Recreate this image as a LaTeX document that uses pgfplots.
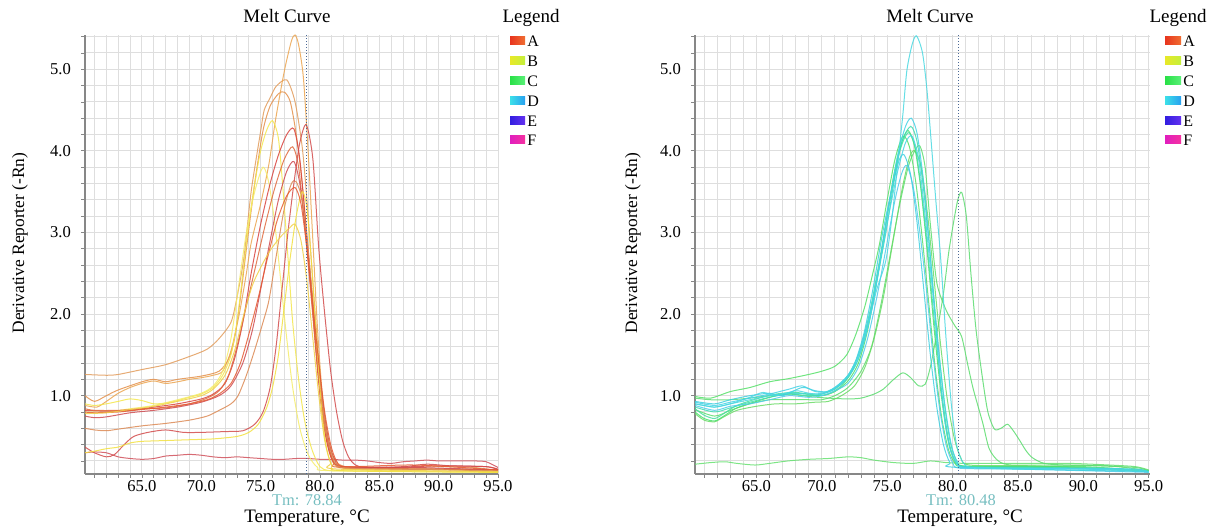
\documentclass[border=0pt]{standalone}
\usepackage{fontspec}
\setmainfont{Liberation Serif}
\usepackage{pgfplots}
\pgfplotsset{compat=1.18}
\definecolor{gridc}{RGB}{222,222,222}
\definecolor{axc}{RGB}{135,135,135}
\definecolor{tmc}{RGB}{118,190,192}
\definecolor{tmline}{RGB}{75,105,150}
% left panel colours
\definecolor{la}{RGB}{226,156,92}
\definecolor{lb}{RGB}{228,144,74}
\definecolor{lc}{RGB}{235,165,80}
\definecolor{ld}{RGB}{243,230,76}
\definecolor{le}{RGB}{245,236,106}
\definecolor{lf}{RGB}{216,67,63}
\definecolor{lg}{RGB}{224,106,62}
\definecolor{lh}{RGB}{207,75,80}
\definecolor{li}{RGB}{220,138,85}
\definecolor{lj}{RGB}{210,75,75}
\definecolor{lk}{RGB}{242,224,64}
\definecolor{ll}{RGB}{208,80,90}
\definecolor{lm}{RGB}{230,90,50}
\definecolor{ln}{RGB}{240,208,72}
% right panel colours
\definecolor{ra}{RGB}{74,216,224}
\definecolor{rb}{RGB}{69,211,230}
\definecolor{rc}{RGB}{62,221,176}
\definecolor{rd}{RGB}{75,224,110}
\definecolor{re}{RGB}{80,204,234}
\definecolor{rf}{RGB}{93,221,110}
\definecolor{rg}{RGB}{85,224,104}
\definecolor{rh}{RGB}{72,214,228}
\definecolor{ri}{RGB}{69,224,160}
\definecolor{rj}{RGB}{92,220,112}
\definecolor{rk}{RGB}{102,224,112}
\definecolor{rl}{RGB}{63,208,224}
\definecolor{rm}{RGB}{106,219,102}
% legend swatches
\definecolor{sAl}{RGB}{232,52,30}\definecolor{sAr}{RGB}{240,110,50}
\definecolor{sBl}{RGB}{232,232,40}\definecolor{sBr}{RGB}{196,240,60}
\definecolor{sCl}{RGB}{40,224,70}\definecolor{sCr}{RGB}{90,240,120}
\definecolor{sDl}{RGB}{60,224,232}\definecolor{sDr}{RGB}{40,160,240}
\definecolor{sEl}{RGB}{50,30,224}\definecolor{sEr}{RGB}{100,50,240}
\definecolor{sFl}{RGB}{224,30,190}\definecolor{sFr}{RGB}{245,50,160}

\pgfplotsset{
  meltaxis/.style={
    scale only axis, anchor=south west,
    height=219.5pt,
    ymin=0.04, ymax=5.42,
    ytick={1,2,3,4,5},
    minor ytick={0.2,0.4,0.6,0.8,1.2,1.4,1.6,1.8,2.2,2.4,2.6,2.8,3.2,3.4,3.6,3.8,4.2,4.4,4.6,4.8,5.2,5.4},
    xtick={65,70,75,80,85,90,95},
    minor xtick={61,62,63,64,66,67,68,69,71,72,73,74,76,77,78,79,81,82,83,84,86,87,88,89,91,92,93,94},
    grid=both,
    major grid style={gridc, line width=0.5pt},
    minor grid style={gridc, line width=0.5pt},
    axis x line*=bottom, axis y line*=left,
    axis line style={axc, line width=1pt, -},
    tick align=outside,
    major tick length=2pt, minor tick length=2pt,
    tick style={axc, line width=0.4pt},
    xticklabel style={font=\fontsize{8.3}{10}\selectfont, inner sep=0pt, yshift=-1.2pt},
    yticklabel style={font=\fontsize{8.3}{10}\selectfont, xshift=-1.5pt},
    /pgf/number format/.cd, fixed, fixed zerofill, precision=1, assume math mode=true,
    /pgfplots/.cd,
    every axis plot/.append style={line width=0.5pt, smooth, tension=0.45, no markers, opacity=0.85},
    clip=true,
  }
}

\begin{document}
\begin{tikzpicture}
\path[use as bounding box] (0,0) rectangle (605pt,265pt);

% ---------------- LEFT PANEL ----------------
\begin{axis}[meltaxis, at={(42.5pt,28pt)}, width=206.5pt, xmin=60.2, xmax=95.0]
\addplot[ll] coordinates {(60.2,0.3)(61,0.31)(62,0.3)(63,0.25)(64,0.23)(65,0.22)(66,0.23)(67,0.26)(68,0.27)(69,0.28)(70,0.27)(71,0.25)(72,0.24)(73,0.25)(74,0.24)(75,0.23)(76,0.22)(77,0.22)(78,0.23)(79,0.23)(80,0.22)(81,0.22)(82,0.21)(83,0.21)(84,0.2)(85,0.18)(86,0.17)(87,0.19)(88,0.2)(89,0.21)(90,0.2)(91,0.2)(92,0.2)(93,0.2)(94,0.19)(95,0.12)};
\addplot[la] coordinates {(60.2,1.26)(62,1.25)(63,1.26)(65,1.32)(67,1.38)(69,1.48)(70.5,1.57)(71.5,1.7)(72.5,1.9)(73,2.2)(73.6,2.7)(74.2,3.5)(75,4.24)(75.3,4.5)(75.8,4.65)(76.3,4.79)(77.2,4.87)(77.9,4.6)(78.5,4.05)(78.9,3.4)(79.3,2.6)(79.7,1.8)(80.1,1.1)(80.5,0.6)(81,0.3)(81.5,0.17)(82.5,0.12)(85,0.11)(88,0.12)(90,0.13)(93,0.12)(95,0.08)};
\addplot[lb] coordinates {(60.2,1.0)(61,0.93)(62,1.0)(63,1.07)(65,1.17)(66,1.2)(67,1.17)(68,1.2)(70,1.24)(71.5,1.3)(72.3,1.45)(72.8,1.7)(73.3,2.2)(73.8,2.8)(74.5,3.6)(75.2,4.25)(75.8,4.55)(76.5,4.7)(77,4.72)(77.5,4.6)(78,4.2)(78.5,3.6)(79,2.8)(79.5,1.9)(80,1.05)(80.5,0.5)(81,0.22)(81.5,0.13)(83,0.1)(87,0.1)(92,0.1)(95,0.07)};
\addplot[lc] coordinates {(60.2,0.88)(61.2,0.86)(62,0.93)(63,1.03)(64,1.1)(65,1.15)(66,1.18)(67,1.15)(68,1.17)(69,1.2)(70,1.22)(71,1.25)(71.8,1.3)(72.5,1.55)(73.2,2.0)(73.8,2.5)(74.2,2.87)(75,3.35)(75.7,3.84)(76.2,4.33)(76.7,4.75)(77.1,5.05)(77.6,5.35)(77.9,5.42)(78.2,5.3)(78.6,4.9)(79,4.0)(79.4,2.9)(79.8,1.8)(80.2,1.0)(80.6,0.5)(81,0.22)(81.6,0.12)(84,0.1)(90,0.1)(95,0.06)};
\addplot[ld] coordinates {(60.2,0.9)(61,0.88)(62,0.9)(63,0.93)(64,0.96)(65,0.94)(66,0.9)(67,0.91)(68,0.94)(69,0.98)(70,1.02)(71,1.1)(71.8,1.25)(72.5,1.5)(73,1.9)(73.5,2.5)(74,3.1)(74.5,3.6)(75,4.0)(75.5,4.25)(76,4.37)(76.5,4.15)(76.9,3.5)(77.3,2.7)(77.7,1.9)(78.2,1.2)(78.7,0.7)(79.3,0.35)(80,0.13)(81,0.08)(85,0.08)(95,0.07)};
\addplot[le] coordinates {(60.2,0.8)(62,0.8)(64,0.84)(66,0.88)(68,0.95)(70,1.03)(71,1.12)(71.8,1.3)(72.5,1.7)(73.2,2.4)(73.8,3.0)(74.5,3.5)(75.2,3.8)(75.7,3.6)(76.2,3.1)(76.7,2.4)(77.2,1.7)(77.7,1.1)(78.3,0.6)(79,0.28)(79.8,0.12)(81,0.08)(95,0.06)};
\addplot[lf] coordinates {(60.2,0.82)(62,0.81)(64,0.82)(66,0.86)(68,0.9)(70,0.96)(71,1.02)(72,1.15)(72.8,1.45)(73.5,1.9)(74.2,2.5)(75,3.1)(75.8,3.6)(76.5,3.95)(77.2,4.2)(77.8,4.27)(78.3,3.9)(78.8,3.1)(79.3,2.2)(79.8,1.3)(80.3,0.65)(80.8,0.3)(81.3,0.16)(82.5,0.12)(86,0.12)(90,0.14)(94,0.13)(95,0.09)};
\addplot[lg] coordinates {(60.2,0.84)(61,0.82)(63,0.82)(65,0.84)(67,0.85)(69,0.9)(70.5,0.97)(71.5,1.06)(72.3,1.25)(73,1.6)(73.8,2.1)(74.6,2.6)(75.4,3.1)(76.2,3.55)(77,3.9)(77.7,4.05)(78.2,3.8)(78.7,3.1)(79.2,2.3)(79.7,1.5)(80.2,0.85)(80.7,0.4)(81.2,0.18)(82,0.12)(95,0.09)};
\addplot[lh] coordinates {(60.2,0.75)(61,0.73)(62,0.74)(64,0.79)(66,0.82)(68,0.86)(70,0.92)(71.5,1.0)(72.5,1.12)(73.5,1.4)(74.3,1.8)(75,2.3)(75.8,2.9)(76.5,3.4)(77.2,3.75)(77.8,3.87)(78.3,3.6)(78.8,3.0)(79.3,2.3)(79.8,1.5)(80.3,0.85)(80.8,0.4)(81.3,0.2)(82,0.13)(88,0.12)(95,0.09)};
\addplot[li] coordinates {(60.2,0.6)(61,0.58)(62,0.57)(63,0.59)(65,0.63)(67,0.66)(69,0.7)(70.5,0.75)(71.5,0.82)(72.5,0.9)(73.1,1.0)(73.8,1.25)(74.5,1.56)(75.2,1.9)(75.7,2.17)(76.3,2.7)(77,3.3)(77.6,3.6)(78,3.62)(78.5,3.4)(79,2.8)(79.5,2.0)(80,1.2)(80.5,0.6)(81,0.28)(81.5,0.15)(83,0.11)(95,0.08)};
\addplot[lj] coordinates {(60.2,0.37)(61,0.3)(62,0.25)(62.7,0.28)(63.5,0.4)(64.3,0.5)(65.5,0.55)(67,0.58)(68.5,0.55)(70,0.55)(72,0.56)(73.5,0.57)(74.5,0.65)(75.2,0.8)(75.8,1.1)(76.3,1.6)(76.8,2.3)(77.3,3.0)(77.8,3.6)(78.3,4.1)(78.84,4.32)(79.4,3.9)(79.9,2.8)(80.4,2.0)(80.9,1.3)(81.4,0.8)(81.9,0.45)(82.4,0.25)(83,0.15)(84,0.12)(87,0.13)(89,0.16)(91,0.14)(94,0.13)(95,0.1)};
\addplot[lk] coordinates {(60.2,0.3)(61,0.32)(62,0.35)(63,0.37)(64,0.42)(65,0.44)(67,0.45)(69,0.46)(71,0.47)(73,0.5)(74,0.55)(74.8,0.65)(75.5,0.85)(76,1.1)(76.5,1.5)(77,2.1)(77.5,2.7)(78,3.2)(78.5,3.5)(78.9,3.3)(79.3,2.6)(79.7,1.7)(80.1,0.9)(80.5,0.4)(81,0.15)(82,0.08)(95,0.06)};
\addplot[lm] coordinates {(60.2,0.8)(61,0.79)(63,0.8)(65,0.83)(67,0.86)(69,0.9)(70.5,0.95)(71.5,1.02)(72.5,1.15)(73.3,1.4)(74,1.75)(74.8,2.2)(75.6,2.7)(76.4,3.15)(77.2,3.45)(77.9,3.55)(78.4,3.35)(78.9,2.8)(79.4,2.1)(79.9,1.4)(80.4,0.8)(80.9,0.4)(81.4,0.2)(82.2,0.13)(88,0.15)(95,0.09)};
\addplot[ln] coordinates {(60.2,0.78)(62,0.79)(64,0.83)(66,0.87)(68,0.93)(70,1.0)(71,1.08)(72,1.25)(72.8,1.55)(73.5,1.95)(74.3,2.35)(75.1,2.6)(75.9,2.8)(76.7,2.95)(77.4,3.05)(77.9,3.1)(78.4,2.9)(78.9,2.4)(79.4,1.7)(79.9,1.0)(80.4,0.45)(80.9,0.18)(81.5,0.1)(95,0.07)};
\addplot[tmline, densely dotted, line width=0.6pt, sharp plot, opacity=1] coordinates {(78.84,0.04)(78.84,5.42)};
\end{axis}

% ---------------- RIGHT PANEL ----------------
\begin{axis}[meltaxis, at={(347.5pt,28pt)}, width=227.5pt, xmin=60.3, xmax=95.1]
\addplot[rk] coordinates {(60.3,0.16)(61.5,0.18)(62.6,0.19)(63.5,0.17)(64.9,0.15)(66,0.17)(67.4,0.2)(69,0.22)(70.5,0.23)(72,0.25)(73,0.24)(74,0.21)(75.5,0.18)(77,0.17)(78.3,0.2)(79.5,0.18)(81,0.17)(83,0.17)(86,0.17)(89,0.17)(92,0.15)(94,0.13)(95,0.09)};
\addplot[rj] coordinates {(60.3,0.97)(61.5,0.95)(63,0.95)(64.5,0.97)(66,1.0)(67.5,1.02)(69,0.99)(70.5,0.97)(72,0.96)(73,0.97)(74,1.02)(74.7,1.08)(75.5,1.2)(76.2,1.28)(76.8,1.22)(77.4,1.12)(77.9,1.14)(78.3,1.35)(78.8,1.77)(79.3,2.25)(79.7,2.75)(80.05,3.1)(80.4,3.4)(80.7,3.49)(81.05,3.2)(81.4,2.5)(81.8,1.8)(82.3,1.2)(82.7,0.8)(83.2,0.59)(83.7,0.6)(84.2,0.65)(84.6,0.58)(85.1,0.46)(85.6,0.33)(86.1,0.24)(87,0.17)(88.5,0.15)(91,0.14)(94,0.12)(95,0.08)};
\addplot[rf] coordinates {(60.3,0.83)(61.8,0.75)(63,0.82)(64.5,0.9)(66,0.95)(67.5,0.95)(69,0.95)(70,0.95)(71,1.0)(72,1.1)(73,1.3)(73.8,1.6)(74.5,2.1)(75.2,2.7)(75.9,3.3)(76.6,3.8)(77.1,4.0)(77.5,4.06)(77.9,3.8)(78.3,3.1)(78.8,2.38)(79.5,2.05)(80.2,1.85)(80.7,1.72)(81.2,1.35)(81.6,1.07)(82.3,0.67)(82.8,0.35)(83.5,0.2)(84.5,0.15)(88,0.15)(92,0.14)(95,0.08)};
\addplot[rg] coordinates {(60.3,0.99)(61.5,0.97)(63,1.05)(64.5,1.1)(66,1.17)(67.5,1.21)(69,1.26)(70,1.3)(71,1.36)(71.9,1.5)(72.6,1.75)(73.3,2.1)(73.9,2.5)(74.4,2.85)(75,3.4)(75.6,3.9)(76.2,4.18)(76.7,4.05)(77.2,3.6)(77.7,2.9)(78.2,2.1)(78.7,1.3)(79.2,0.7)(79.7,0.33)(80.2,0.17)(81,0.13)(88,0.13)(95,0.08)};
\addplot[rm] coordinates {(60.3,0.78)(61,0.7)(61.8,0.68)(62.5,0.74)(63.5,0.82)(65,0.87)(66.5,0.9)(68,0.9)(69.5,0.92)(70.5,0.93)(71.5,1.0)(72.5,1.12)(73.3,1.35)(74,1.7)(74.7,2.2)(75.4,2.85)(76.1,3.5)(76.7,3.92)(77.1,4.0)(77.6,3.8)(78.1,3.2)(78.6,2.4)(79.1,1.6)(79.6,0.95)(80.1,0.5)(80.6,0.25)(81.3,0.15)(86,0.14)(95,0.08)};
\addplot[rd] coordinates {(60.3,0.8)(61,0.72)(61.8,0.69)(62.5,0.75)(63.5,0.85)(65,0.93)(66.5,1.0)(68,1.03)(69,1.02)(70,1.0)(71,1.05)(72,1.18)(72.8,1.4)(73.5,1.8)(74.2,2.4)(74.9,3.1)(75.5,3.7)(76.1,4.1)(76.6,4.25)(77.1,4.05)(77.6,3.5)(78.1,2.7)(78.6,1.8)(79.1,1.05)(79.6,0.5)(80.1,0.22)(80.8,0.14)(85,0.13)(90,0.13)(95,0.08)};
\addplot[ri] coordinates {(60.3,0.84)(61,0.76)(61.8,0.72)(62.5,0.78)(63.5,0.88)(65,0.96)(66.5,1.02)(68,1.04)(69.5,1.0)(70.5,1.02)(71.5,1.12)(72.3,1.3)(73,1.6)(73.7,2.05)(74.4,2.65)(75.1,3.3)(75.8,3.9)(76.3,4.15)(76.7,4.22)(77.2,4.0)(77.7,3.4)(78.2,2.6)(78.7,1.75)(79.2,1.0)(79.7,0.45)(80.2,0.2)(81,0.13)(87,0.12)(95,0.07)};
\addplot[rc] coordinates {(60.3,0.86)(61.8,0.8)(63,0.85)(64.5,0.92)(66,0.98)(67.5,1.02)(69,1.0)(70,1.02)(71,1.08)(72,1.22)(72.8,1.45)(73.5,1.85)(74.2,2.4)(74.9,3.0)(75.5,3.6)(76.1,4.1)(76.8,4.3)(77.3,4.1)(77.8,3.5)(78.3,2.7)(78.8,1.8)(79.3,1.0)(79.8,0.45)(80.3,0.2)(81,0.13)(86,0.12)(92,0.11)(95,0.07)};
\addplot[re] coordinates {(60.3,0.88)(61.8,0.82)(63,0.87)(64.5,0.9)(66,0.95)(67.5,1.0)(69,0.98)(70,1.0)(71,1.06)(72,1.15)(72.8,1.35)(73.5,1.7)(74.2,2.2)(74.9,2.8)(75.6,3.4)(76.1,3.72)(76.5,3.82)(77,3.55)(77.5,3.0)(78,2.3)(78.5,1.5)(79,0.85)(79.5,0.4)(80,0.18)(80.6,0.11)(85,0.1)(95,0.06)};
\addplot[rl] coordinates {(60.3,0.93)(61.8,0.9)(63,0.95)(64.5,1.0)(66,1.03)(67,1.0)(68.5,1.1)(69.5,1.06)(70.5,1.05)(71.5,1.15)(72.4,1.35)(73.2,1.75)(73.9,2.3)(74.6,2.95)(75.3,3.5)(75.9,3.88)(76.3,3.95)(76.8,3.7)(77.3,3.1)(77.8,2.3)(78.3,1.5)(78.8,0.85)(79.3,0.4)(79.8,0.18)(80.5,0.12)(95,0.07)};
\addplot[rh] coordinates {(60.3,0.9)(61,0.88)(61.8,0.86)(63,0.9)(64.5,0.98)(65.5,1.04)(66.5,1.0)(68,1.06)(69,1.03)(70,1.02)(71,1.1)(72,1.25)(72.8,1.5)(73.6,1.95)(74.4,2.6)(75.1,3.2)(75.8,3.75)(76.4,4.1)(76.9,4.18)(77.4,3.9)(77.9,3.2)(78.4,2.4)(78.9,1.6)(79.4,0.9)(79.9,0.4)(80.4,0.18)(81.2,0.12)(90,0.1)(95,0.07)};
\addplot[rb] coordinates {(60.3,0.92)(61.8,0.88)(63,0.92)(64.5,0.97)(66,1.02)(67.5,1.08)(68.5,1.12)(69.5,1.05)(70.5,1.05)(71.5,1.15)(72.5,1.35)(73.3,1.7)(74,2.2)(74.6,2.8)(75.2,3.4)(75.8,3.95)(76.4,4.3)(76.85,4.4)(77.3,4.2)(77.8,3.6)(78.2,2.9)(78.6,2.1)(79,1.3)(79.4,0.7)(79.8,0.35)(80.3,0.17)(81,0.12)(85,0.11)(90,0.11)(94,0.1)(95,0.07)};
\addplot[ra] coordinates {(60.3,0.9)(61.8,0.86)(63,0.9)(64.5,0.95)(66,1.0)(67.5,1.03)(69,1.02)(70,1.03)(71,1.1)(72,1.25)(72.8,1.5)(73.5,1.85)(74.2,2.3)(74.9,2.66)(75.4,3.23)(75.8,3.84)(76.2,4.45)(76.5,4.98)(76.9,5.3)(77.24,5.41)(77.7,5.2)(78.05,4.73)(78.4,4.04)(78.7,3.43)(79.1,2.66)(79.5,1.7)(79.9,0.9)(80.3,0.4)(80.8,0.18)(81.5,0.12)(85,0.1)(90,0.1)(94,0.09)(95,0.06)};
\addplot[tmline, densely dotted, line width=0.6pt, sharp plot, opacity=1] coordinates {(80.48,0.04)(80.48,5.42)};
\end{axis}

% ---------------- TEXT ----------------
\tikzset{ttl/.style={font=\fontsize{9.5}{11}\selectfont, anchor=base, inner sep=0pt}}
\node[ttl] at (143.5pt,253.5pt) {Melt Curve};
\node[ttl] at (465pt,253.5pt) {Melt Curve};
\node[ttl] at (153.5pt,3.5pt) {Temperature, °C};
\node[ttl] at (480pt,3.5pt) {Temperature, °C};
\node[font=\fontsize{8.2}{10}\selectfont, anchor=base, inner sep=0pt, text=tmc] at (153.5pt,12.2pt) {Tm: 78.84};
\node[font=\fontsize{8.2}{10}\selectfont, anchor=base, inner sep=0pt, text=tmc] at (480.5pt,12.2pt) {Tm: 80.48};
\node[font=\fontsize{8.7}{10}\selectfont, rotate=90, inner sep=0pt] at (10pt,143.5pt) {Derivative Reporter (-Rn)};
\node[font=\fontsize{8.7}{10}\selectfont, rotate=90, inner sep=0pt] at (316.5pt,143.5pt) {Derivative Reporter (-Rn)};
% legends
\node[ttl] at (265.5pt,253.5pt) {Legend};
\node[ttl] at (589pt,253.5pt) {Legend};
\foreach \L/\cl/\cr [count=\i from 0] in {A/sAl/sAr,B/sBl/sBr,C/sCl/sCr,D/sDl/sDr,E/sEl/sEr,F/sFl/sFr}{
  \pgfmathsetmacro{\yb}{241.5-9.9*\i}
  \shade[left color=\cl, right color=\cr] (255pt,\yb pt+1pt) rectangle (262.5pt,\yb pt+5pt);
  \node[font=\fontsize{8}{10}\selectfont, anchor=base west, inner sep=0pt] at (263.5pt,\yb pt) {\L};
  \shade[left color=\cl, right color=\cr] (582.5pt,\yb pt+1pt) rectangle (590.5pt,\yb pt+5pt);
  \node[font=\fontsize{8}{10}\selectfont, anchor=base west, inner sep=0pt] at (591.5pt,\yb pt) {\L};
}
\end{tikzpicture}
\end{document}
